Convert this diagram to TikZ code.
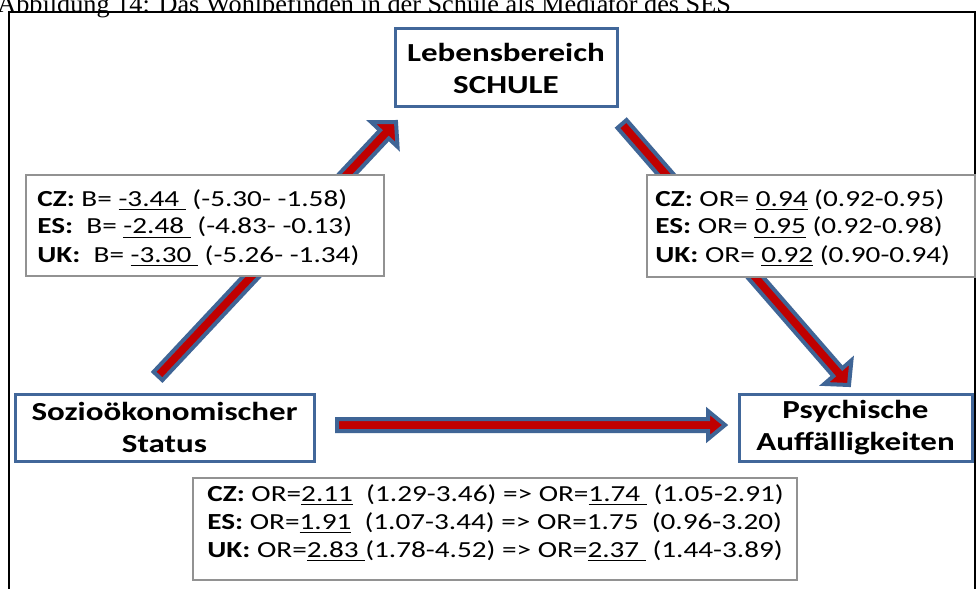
\documentclass[tikz,border=0pt]{standalone}
\usepackage{fontspec}
\setmainfont{Carlito}
\newfontfamily\capfont{Liberation Serif}
\usetikzlibrary{calc}
\definecolor{arrblue}{HTML}{3F6596}
\definecolor{arrred}{HTML}{C00000}
\definecolor{boxblue}{HTML}{41679A}
\definecolor{boxgray}{HTML}{929292}
\newcommand{\stretchx}[1]{\scalebox{1.27}[1]{#1}}
\newcommand{\blockarrow}[3]{%
  \coordinate (bah) at ($(#2)!8.5pt!(#1)$);
  \path[blockarr] ($(#1)!3pt!90:(#2)$) -- ($(bah)!3pt!90:(#2)$) -- ($(bah)!#3!90:(#2)$) -- (#2)
    -- ($(bah)!#3!-90:(#2)$) -- ($(bah)!3pt!-90:(#2)$) -- ($(#1)!3pt!-90:(#2)$) -- cycle;}
\begin{document}
\begin{tikzpicture}[x=0.5pt,y=-0.5pt,
  mainbox/.style={draw=boxblue, line width=1.5pt, fill=white, align=center,
    font=\fontsize{13}{16}\selectfont\bfseries, inner sep=0pt},
  gbox/.style={draw=boxgray, line width=1pt, fill=white, inner sep=0pt},
  txt/.style={inner sep=0pt, anchor=base west, font=\fontsize{11.5}{14}\selectfont},
  capnode/.style={inner sep=0pt, anchor=base west, font=\capfont\fontsize{12.5}{15}\selectfont},
  blockarr/.style={draw=arrblue, fill=arrred, line width=2pt, line join=miter}]
\clip (0,0) rectangle (978,588);
\fill[white] (0,0) rectangle (978,588);
% caption and frame
\node[capnode] (cap) at (-3,13) {\scalebox{1.05}[1]{Abbildung 14: Das Wohlbefinden in der Schule als Mediator des SES}};
\draw[line width=1pt] (9,620) -- (9,12) -- (975,12) -- (975,620);
% arrows
\coordinate (a1s) at (158,376);
\coordinate (a1e) at (396,122);
\coordinate (a2s) at (622,124);
\coordinate (a2e) at (849,385);
\coordinate (a3s) at (337,425);
\coordinate (a3e) at (725,425);
\blockarrow{a1s}{a1e}{9pt}
\blockarrow{a2s}{a2e}{9pt}
\blockarrow{a3s}{a3e}{7pt}
% main boxes
\node[mainbox, minimum width=111pt, minimum height=39pt] (schule) at (506,68)
  {\stretchx{Lebensbereich}\\\stretchx{SCHULE}};
\node[mainbox, minimum width=149.5pt, minimum height=33.5pt] (ses) at (164.5,427.5)
  {\stretchx{Sozioökonomischer}\\\stretchx{Status}};
\node[mainbox, minimum width=116.5pt, minimum height=33.5pt] (psy) at (855.5,427.5)
  {\stretchx{Psychische}\\\stretchx{Auffälligkeiten}};
% text boxes
\node[gbox, minimum width=179pt, minimum height=50.5pt] (lbox) at (205,225.5) {};
\node[txt] (l1) at (37,206) {\stretchx{\textbf{CZ:} B= \underline{-3.44\ } (-5.30- -1.58)}};
\node[txt] (l2) at (37,234) {\stretchx{\textbf{ES:}\ \ B= \underline{-2.48\ } (-4.83- -0.13)}};
\node[txt] (l3) at (37,262) {\stretchx{\textbf{UK:}\ \ B= \underline{-3.30\ } (-5.26- -1.34)}};
\node[gbox, minimum width=164pt, minimum height=51pt] (rbox) at (811,226) {};
\node[txt] (r1) at (655,206) {\stretchx{\textbf{CZ:} OR= \underline{0.94} (0.92-0.95)}};
\node[txt] (r2) at (655,234) {\stretchx{\textbf{ES:} OR= \underline{0.95} (0.92-0.98)}};
\node[txt] (r3) at (655,262) {\stretchx{\textbf{UK:} OR= \underline{0.92} (0.90-0.94)}};
\node[gbox, minimum width=302pt, minimum height=51pt] (bbox) at (495,529) {};
\node[txt] (b1) at (207,501) {\stretchx{\textbf{CZ:} OR=\underline{2.11}\ \ (1.29-3.46) => OR=\underline{1.74\ } (1.05-2.91)}};
\node[txt] (b2) at (207,529) {\stretchx{\textbf{ES:} OR=\underline{1.91}\ \ (1.07-3.44) => OR=1.75\ \ (0.96-3.20)}};
\node[txt] (b3) at (207,557) {\stretchx{\textbf{UK:} OR=\underline{2.83\ }(1.78-4.52) => OR=\underline{2.37\ } (1.44-3.89)}};
\end{tikzpicture}
\end{document}
